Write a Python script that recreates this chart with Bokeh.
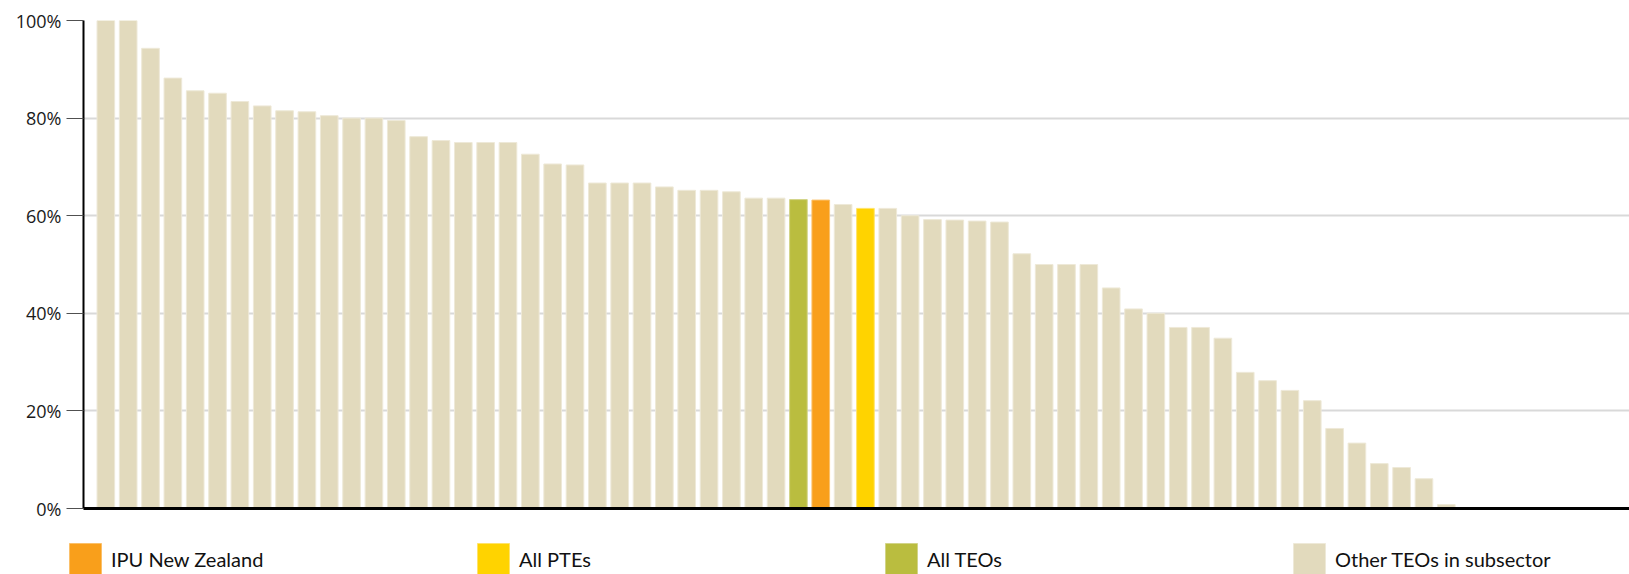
from bokeh.plotting import figure
from bokeh.models import ColumnDataSource, Range1d, FixedTicker, Legend, LegendItem
from bokeh.embed import file_html
from bokeh.resources import INLINE

# ---- data ----
values = [100, 100, 94.3, 88.2, 85.6, 85.1, 83.4, 82.5, 81.5, 81.3,
          80.5, 80.0, 80.0, 79.5, 76.2, 75.4, 75.0, 75.0, 75.0, 72.6,
          70.6, 70.4, 66.7, 66.7, 66.7, 65.9, 65.2, 65.2, 64.9, 63.6,
          63.6, 63.3, 63.2, 62.3, 61.5, 61.5, 60.0, 59.2, 59.1, 58.9,
          58.7, 52.2, 50.0, 50.0, 50.0, 45.2, 40.9, 40.0, 37.1, 37.1,
          34.9, 27.9, 26.2, 24.2, 22.1, 16.4, 13.4, 9.2, 8.4, 6.1, 0.8]
groups = ["Other TEOs in subsector"] * len(values)
groups[31] = "All TEOs"
groups[32] = "IPU New Zealand"
groups[34] = "All PTEs"
legend_order = ["IPU New Zealand", "All PTEs", "All TEOs", "Other TEOs in subsector"]
colors = {"IPU New Zealand": "#F99F1B", "All PTEs": "#FFD300",
          "All TEOs": "#BABD3F", "Other TEOs in subsector": "#E2DABD"}
edge = {"IPU New Zealand": "#FBC06A", "All PTEs": "#FFE36A",
        "All TEOs": "#D2D488", "Other TEOs in subsector": "#EEE9D8"}
y_ticks = [0, 20, 40, 60, 80, 100]
y_labels = ["0%", "20%", "40%", "60%", "80%", "100%"]

positions = list(range(1, len(values) + 1))
src = ColumnDataSource(dict(x=positions, top=values, group=groups,
                            fill=[colors[g] for g in groups],
                            line=[edge[g] for g in groups]))

# ---- main chart ----
p = figure(width=1629, height=520, output_backend="svg", toolbar_location=None,
           x_range=Range1d(0, 69.2), y_range=Range1d(0, 100),
           min_border_left=83, min_border_right=0, min_border_top=20,
           min_border_bottom=12)
p.outline_line_color = None
p.background_fill_color = "white"

r = p.vbar(x="x", top="top", bottom=0, width=0.79, source=src,
           fill_color="fill", line_color="line", line_width=1)

p.xgrid.grid_line_color = None
p.ygrid.grid_line_color = "#D9D9D9"
p.ygrid.grid_line_width = 2
p.ygrid.ticker = FixedTicker(ticks=y_ticks)

ya = p.yaxis[0]
ya.ticker = FixedTicker(ticks=y_ticks)
ya.major_label_overrides = {t: l for t, l in zip(y_ticks, y_labels)}
ya.axis_line_color = "black"
ya.axis_line_width = 2
ya.major_tick_out = 17
ya.major_tick_in = 0
ya.major_tick_line_color = "#505050"
ya.minor_tick_line_color = None
ya.major_label_standoff = 5
ya.major_label_text_font = "Open Sans"
ya.major_label_text_font_size = "18px"
ya.major_label_text_color = "#1a1a1a"

xa = p.xaxis[0]
xa.ticker = FixedTicker(ticks=[])
xa.axis_line_color = "black"
xa.axis_line_width = 3
xa.major_tick_line_color = None
xa.minor_tick_line_color = None
xa.major_label_text_font_size = "0px"

# ---- legend strip (separate root, so its frame is not aligned to the chart's) ----
lg = figure(width=1629, height=54, output_backend="svg", toolbar_location=None,
            x_range=Range1d(-10, -9), y_range=Range1d(-10, -9),
            x_axis_location=None, y_axis_location=None,
            min_border_left=0, min_border_right=0, min_border_top=0,
            min_border_bottom=0)
lg.outline_line_color = None
lg.xgrid.grid_line_color = None
lg.ygrid.grid_line_color = None
r2 = lg.vbar(x="x", top="top", bottom=0, width=0.79, source=src,
             fill_color="fill", line_color="line", line_width=1)

items = [LegendItem(label=g, renderers=[r2], index=groups.index(g)) for g in legend_order]
leg = Legend(items=items, orientation="horizontal", location=(65, -5),
             glyph_width=40, glyph_height=40, label_standoff=6,
             label_width=362, spacing=0, padding=0, margin=0,
             border_line_color=None, background_fill_alpha=0,
             label_text_font="Lato", label_text_font_size="20px",
             label_text_color="#111111")
lg.add_layout(leg, "center")

open("out.html", "w").write(file_html([p, lg], INLINE))
